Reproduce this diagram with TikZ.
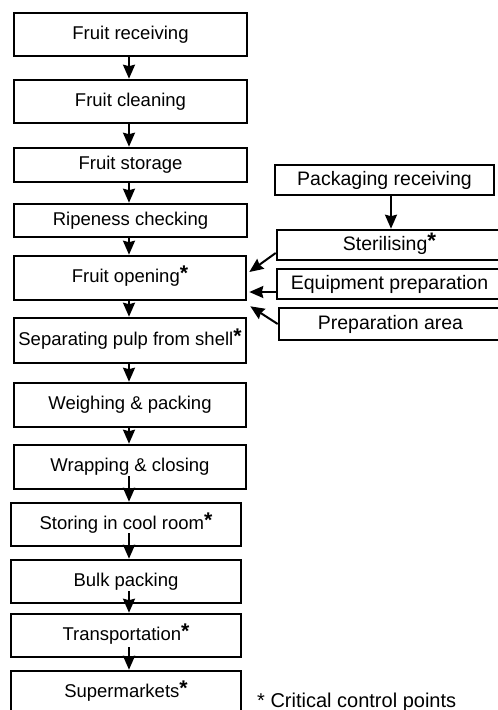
\documentclass[tikz,border=0pt]{standalone}
\usepackage{fontspec}
\usepackage{graphicx}
\setmainfont{Liberation Sans}
\usetikzlibrary{arrows.meta,calc}

\newcommand{\crit}{\smash{\raisebox{2pt}{\scalebox{1.15}{\textbf{*}}}}}

\tikzset{
  lbox/.style={draw, line width=2.6pt, inner sep=0pt,
    font=\fontsize{18.5}{20}\selectfont},
  rbox/.style={draw, line width=2.6pt, inner sep=0pt,
    font=\fontsize{19.5}{22}\selectfont},
  flow/.style={line width=2pt, -{Stealth[length=14pt,width=12pt,inset=1.5pt]}}
}

\begin{document}
\begin{tikzpicture}[x=1pt,y=-1pt]
\useasboundingbox (0,0) rectangle (498,710);
\clip (0,0) rectangle (498,710);

% main process chain
\node[lbox, minimum width=233pt, minimum height=43pt] (n1)  at (130.5,34.5)  {Fruit receiving};
\node[lbox, minimum width=233pt, minimum height=43pt] (n2)  at (130.5,101.5) {Fruit cleaning};
\node[lbox, minimum width=233pt, minimum height=34pt] (n3)  at (130.5,165)   {Fruit storage};
\node[lbox, minimum width=233pt, minimum height=33pt] (n4)  at (130.5,220.5) {Ripeness checking};
\node[lbox, minimum width=232pt, minimum height=44pt] (n5)  at (130,278)     {Fruit opening\crit};
\node[lbox, minimum width=232pt, minimum height=45pt] (n6)  at (130,340.5)   {Separating pulp from shell\crit};
\node[lbox, minimum width=232pt, minimum height=44pt] (n7)  at (130,405)     {Weighing \& packing};
\node[lbox, minimum width=232pt, minimum height=44pt] (n8)  at (130,467)     {Wrapping \& closing};
\node[lbox, minimum width=230pt, minimum height=43pt] (n9)  at (126,524.5)   {Storing in cool room\crit};
\node[lbox, minimum width=230pt, minimum height=43pt] (n10) at (126,581.5)   {Bulk packing};
\node[lbox, minimum width=230pt, minimum height=43pt] (n11) at (126,635.5)   {Transportation\crit};
\node[lbox, minimum width=230pt, minimum height=43pt] (n12) at (126,692.5)   {Supermarkets\crit};

% supporting steps
\node[rbox, minimum width=219pt, minimum height=30pt] (p1) at (384.5,180) {Packaging receiving};
\node[rbox, minimum width=225pt, minimum height=30pt] (p2) at (389.5,245) {Sterilising\crit};
\node[rbox, minimum width=225pt, minimum height=30pt] (p3) at (389.5,284) {Equipment preparation};
\node[rbox, minimum width=223pt, minimum height=32pt] (p4) at (390.5,324) {Preparation area};

% legend
\node[anchor=base west, inner sep=0pt, font=\fontsize{20}{22}\selectfont] (legend) at (257,707) {* Critical control points};

% connectors
\coordinate (spine) at (129,0);
\draw[flow] (n1.south -| spine) -- (n2.north -| spine);
\draw[flow] (n2.south -| spine) -- (n3.north -| spine);
\draw[flow] (n3.south -| spine) -- (n4.north -| spine);
\draw[flow] (n4.south -| spine) -- (n5.north -| spine);
\draw[flow] (n5.south -| spine) -- (n6.north -| spine);
\draw[flow] (n6.south -| spine) -- (n7.north -| spine);
\draw[flow] (n7.south -| spine) -- (n8.north -| spine);
\draw[flow] ($(n8.south -| spine)+(0,-14)$)  -- (n9.north -| spine);
\draw[flow] ($(n9.south -| spine)+(0,-14)$)  -- (n10.north -| spine);
\draw[flow] ($(n10.south -| spine)+(0,-13)$) -- (n11.north -| spine);
\draw[flow] ($(n11.south -| spine)+(0,-11)$) -- (n12.north -| spine);

\draw[flow] ([xshift=6.5pt]p1.south) -- ([xshift=1.5pt]p2.north);
\draw[flow] ([yshift=-8pt]p2.west) -- ([xshift=2pt,yshift=6pt]n5.east);
\draw[flow] ([yshift=-8pt]p3.west) -- ([xshift=2pt,yshift=-14pt]n5.east);
\draw[flow] (p4.west) -- ([xshift=3pt,yshift=-5pt]n5.south east);
\end{tikzpicture}
\end{document}
